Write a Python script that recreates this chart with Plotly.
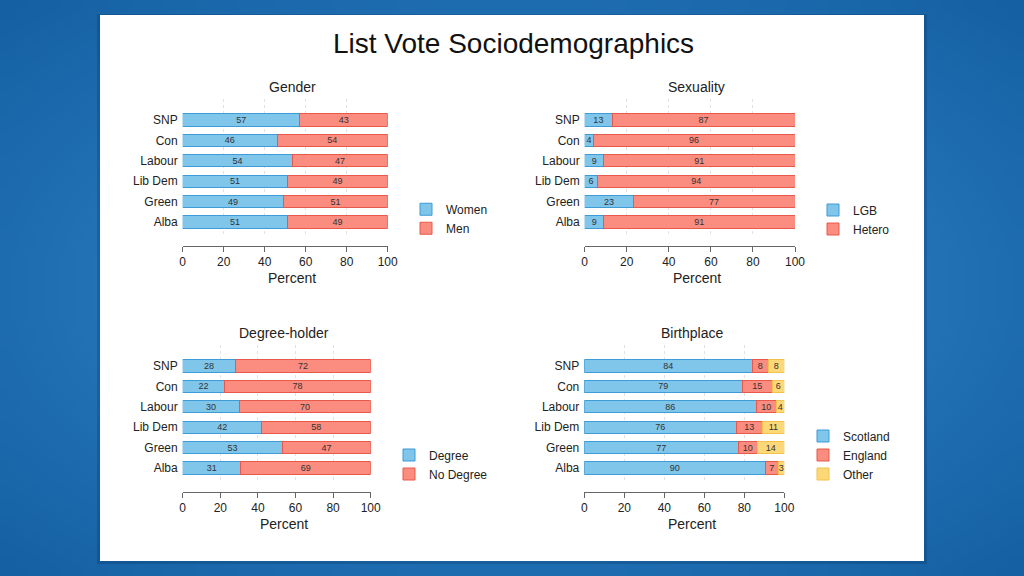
import zlib, struct, base64, math
import plotly.graph_objects as go

# ---------------- data ----------------
parties = ["SNP", "Con", "Labour", "Lib Dem", "Green", "Alba"]

gender_women = [57, 46, 53.5, 51, 49, 51]
gender_men = [43, 54, 46.5, 49, 51, 49]

sex_lgb = [13, 4, 9, 6, 23, 9]
sex_hetero = [87, 96, 91, 94, 77, 91]

deg_degree = [28, 22, 30, 42, 53, 31]
deg_none = [72, 78, 70, 58, 47, 69]

birth_scotland = [84, 79, 86, 76, 77, 90.4]
birth_england = [8, 15, 10, 13, 9.5, 6.6]
birth_other = [8, 6, 4, 11, 13.5, 3.0]

x_ticks = [0, 20, 40, 60, 80, 100]

# ---------------- styling ----------------
W, H = 1024, 576
BLUE = dict(fill="#80c5ea", line="#3d9bd6")
RED = dict(fill="#fb8c80", line="#e8594b")
YEL = dict(fill="#fdd878", line="#f2c24a")
FONT = "Liberation Sans, Arial, Helvetica, sans-serif"


def px(x):
    return x / W


def py(y):
    return 1 - y / H


def gradient_uri(w=128, h=72):
    light = (0x3c, 0x90, 0xd8)
    dark = (0x14, 0x60, 0xa2)
    rows = []
    for j in range(h):
        row = bytearray(b"\x00")
        for i in range(w):
            dx = (i / (w - 1) - 0.5) / 0.5
            dy = (j / (h - 1) - 0.5) / 0.5
            d = min(1.0, math.sqrt(dx * dx + dy * dy) / math.sqrt(2))
            t = d ** 0.9
            row += bytes(int(light[k] + (dark[k] - light[k]) * t) for k in range(3))
        rows.append(bytes(row))
    raw = b"".join(rows)

    def chunk(tag, data):
        c = struct.pack(">I", len(data)) + tag + data
        return c + struct.pack(">I", zlib.crc32(tag + data) & 0xFFFFFFFF)

    png = (b"\x89PNG\r\n\x1a\n"
           + chunk(b"IHDR", struct.pack(">IIBBBBB", w, h, 8, 2, 0, 0, 0))
           + chunk(b"IDAT", zlib.compress(raw))
           + chunk(b"IEND", b""))
    return "data:image/png;base64," + base64.b64encode(png).decode()


fig = go.Figure()

panels = [
    # (axis suffix, legend id, series list, x0px, x100px, top px, plot-bottom px, axis px)
    ("", "legend", [("Women", gender_women, BLUE), ("Men", gender_men, RED)],
     182.7, 387.7, 99, 236, 245.5),
    ("2", "legend2", [("LGB", sex_lgb, BLUE), ("Hetero", sex_hetero, RED)],
     584.7, 795.0, 99, 236, 245.5),
    ("3", "legend3", [("Degree", deg_degree, BLUE), ("No Degree", deg_none, RED)],
     182.7, 370.7, 345, 482, 491.5),
    ("4", "legend4", [("Scotland", birth_scotland, BLUE), ("England", birth_england, RED),
                      ("Other", birth_other, YEL)],
     584.3, 784.3, 345, 482, 491.5),
]

layout_axes = {}
for suf, leg, series, x0, x1, top, bot, axy in panels:
    for name, vals, col in series:
        fig.add_trace(go.Bar(
            y=parties, x=vals, name=name, orientation="h",
            xaxis="x" + suf, yaxis="y" + suf, legend=leg,
            width=0.6,
            marker=dict(color=col["fill"], line=dict(color=col["line"], width=1)),
            texttemplate="%{x:.0f}", textposition="inside",
            insidetextanchor="middle", textangle=0,
            textfont=dict(size=9, color="#333333", family=FONT),
            hovertemplate="%{y}: %{x}<extra>" + name + "</extra>",
        ))
    pitch = 20.4
    first = top + 21
    r_top = (top - first) / pitch
    r_bot = (bot - first) / pitch
    layout_axes["xaxis" + suf] = dict(
        domain=[px(x0), px(x1)], range=[0, 100], anchor="free", position=py(axy),
        tickvals=x_ticks, ticks="outside", ticklen=5, tickcolor="#666666", tickwidth=1,
        showline=True, linecolor="#666666", linewidth=1, automargin=False,
        showgrid=True, gridcolor="#e2e2e2", griddash="dot", gridwidth=1,
        zeroline=False, tickfont=dict(size=12, color="#222222", family=FONT),
    )
    layout_axes["yaxis" + suf] = dict(
        domain=[py(bot), py(top)], anchor="x" + suf, type="category",
        categoryorder="array", categoryarray=parties, automargin=False,
        range=[r_bot, r_top], showgrid=False, ticks="", showline=False, zeroline=False,
        ticklabelstandoff=4,
        tickfont=dict(size=12, color="#222222", family=FONT),
    )

legend_common = dict(
    bgcolor="rgba(0,0,0,0)", borderwidth=0, traceorder="normal",
    font=dict(size=12, color="#222222", family=FONT),
    xanchor="left", yanchor="middle",
)

annotations = [
    dict(text="List Vote Sociodemographics", x=px(513), y=py(44),
         font=dict(size=28, color="#111111", family=FONT)),
    dict(text="Gender", x=px(292), y=py(87), font=dict(size=14, color="#222222", family=FONT)),
    dict(text="Sexuality", x=px(696.7), y=py(87), font=dict(size=14, color="#222222", family=FONT)),
    dict(text="Degree-holder", x=px(284), y=py(332.5), font=dict(size=14, color="#222222", family=FONT)),
    dict(text="Birthplace", x=px(691.7), y=py(332.5), font=dict(size=14, color="#222222", family=FONT)),
    dict(text="Percent", x=px(292), y=py(278), font=dict(size=14, color="#222222", family=FONT)),
    dict(text="Percent", x=px(696.7), y=py(278), font=dict(size=14, color="#222222", family=FONT)),
    dict(text="Percent", x=px(284), y=py(524), font=dict(size=14, color="#222222", family=FONT)),
    dict(text="Percent", x=px(691.7), y=py(524), font=dict(size=14, color="#222222", family=FONT)),
]
for a in annotations:
    a.update(xref="paper", yref="paper", showarrow=False, xanchor="center", yanchor="middle")

fig.update_layout(
    width=W, height=H, autosize=False,
    margin=dict(l=0, r=0, t=0, b=0, pad=0, autoexpand=False),
    paper_bgcolor="#1f6fb3", plot_bgcolor="rgba(0,0,0,0)",
    barmode="stack", bargap=0.4,
    font=dict(family=FONT, color="#222222"),
    uniformtext=dict(minsize=9, mode="show"),
    legend=dict(x=px(406), y=py(218.75), **legend_common),
    legend2=dict(x=px(813), y=py(219.5), **legend_common),
    legend3=dict(x=px(389), y=py(464.5), **legend_common),
    legend4=dict(x=px(803), y=py(455), **legend_common),
    annotations=annotations,
    images=[dict(source=gradient_uri(), xref="paper", yref="paper", x=0, y=1,
                 sizex=1, sizey=1, xanchor="left", yanchor="top",
                 sizing="stretch", layer="below")],
    shapes=[
        dict(type="rect", xref="paper", yref="paper", layer="below",
             x0=px(97), x1=px(927), y0=py(564), y1=py(14),
             fillcolor="rgba(0,20,60,0.18)", line=dict(width=0)),
        dict(type="rect", xref="paper", yref="paper", layer="below",
             x0=px(100), x1=px(924), y0=py(561), y1=py(15),
             fillcolor="white", line=dict(width=0)),
    ],
    showlegend=True,
    **layout_axes,
)

fig.write_html(
    "out.html",
    config={"displayModeBar": False, "responsive": False},
    default_width="1024px", default_height="576px",
    post_script="document.documentElement.style.margin='0';"
                "document.documentElement.style.overflow='hidden';"
                "document.body.style.margin='0';document.body.style.padding='0';"
                "document.body.style.overflow='hidden';",
)
